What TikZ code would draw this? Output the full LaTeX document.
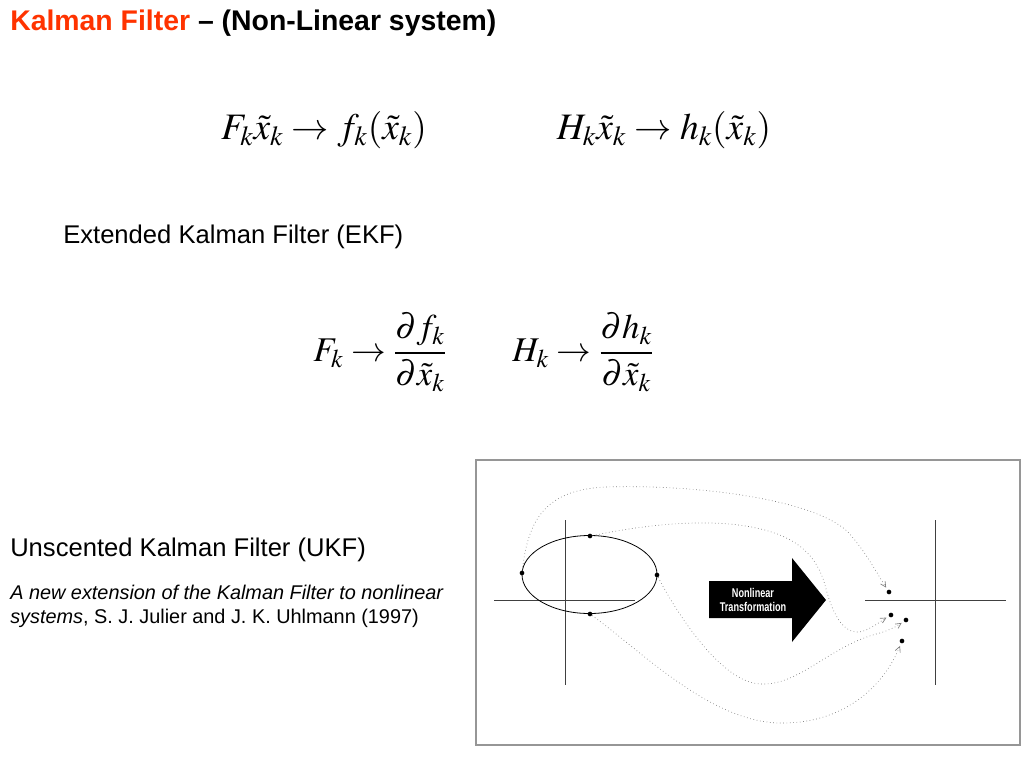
\documentclass[tikz,border=0pt]{standalone}
\usepackage{mathptmx}
\usepackage[no-math]{fontspec}
\setmainfont{Liberation Sans}
\newfontfamily\narrowfont[FakeStretch=0.72]{Liberation Sans}
\usetikzlibrary{arrows.meta}
\definecolor{kforange}{RGB}{255,51,0}
\definecolor{pathgray}{RGB}{125,125,125}
\definecolor{framegray}{RGB}{150,150,150}
\tikzset{
  axis/.style={draw=black!75, line width=0.6pt},
  sigdot/.style={circle, fill=black, inner sep=0pt, minimum size=3.5pt},
  flow/.style={draw=pathgray, dotted, line width=0.5pt, shorten >=2pt,
    -{Straight Barb[length=4pt,width=4pt]}},
  txt/.style={anchor=west, inner sep=0pt},
}
\begin{document}
\begin{tikzpicture}[x=0.75pt,y=-0.75pt]
\useasboundingbox (0,0) rectangle (1024,768);

% title and equations
\node[txt, font=\fontsize{21.3}{24}\selectfont\bfseries] (title) at (10,23)
{\textcolor{kforange}{Kalman Filter} -- (Non-Linear system)};
\node[font=\fontsize{28}{30}\selectfont] (eqF) at (324,130) {$F_k\tilde{x}_k \rightarrow f_k(\tilde{x}_k)$};
\node[font=\fontsize{28}{30}\selectfont] (eqH) at (664,130) {$H_k\tilde{x}_k \rightarrow h_k(\tilde{x}_k)$};

\node[txt, font=\fontsize{19.2}{22}\selectfont] (ekf) at (63,237) {Extended Kalman Filter (EKF)};
\node[font=\fontsize{26}{28}\selectfont] (jacF) at (380,352) {$F_k \rightarrow \displaystyle\frac{\partial f_k}{\partial\tilde{x}_k}$};
\node[font=\fontsize{26}{28}\selectfont] (jacH) at (583,352) {$H_k \rightarrow \displaystyle\frac{\partial h_k}{\partial\tilde{x}_k}$};

\node[txt, font=\fontsize{19.2}{22}\selectfont] (ukf) at (10,550) {Unscented Kalman Filter (UKF)};
\node[txt, anchor=north west, align=left, font=\fontsize{14.9}{18}\selectfont] (ref) at (10,585)
{\textit{A new extension of the Kalman Filter to nonlinear}\\
\textit{systems}, S. J. Julier and J. K. Uhlmann (1997)};

% figure
\draw[draw=framegray, line width=1.2pt] (476,460) rectangle (1020,745);

\draw[axis] (494,600)--(635,600);
\draw[axis] (565,520)--(565,685);
\draw[line width=0.6pt] (589.5,574.5) ellipse [x radius=67.5, y radius=39];

\draw[axis] (865,600)--(1006,600);
\draw[axis] (935,520)--(935,685);

\node[sigdot] (sL) at (522,573) {};
\node[sigdot] (sT) at (590,536) {};
\node[sigdot] (sR) at (657,575) {};
\node[sigdot] (sB) at (590,614) {};

\node[sigdot] (tA) at (889,592) {};
\node[sigdot] (tB) at (891,615) {};
\node[sigdot] (tC) at (906,620) {};
\node[sigdot] (tD) at (902,641) {};

\fill (709,581)--(792,581)--(792,558)--(826,600)--(792,642)--(792,618)--(709,618)--cycle;
\node[text=white, align=center, inner sep=0pt, font=\fontsize{9.5}{10.5}\selectfont\narrowfont\bfseries] (nlt) at (753,600)
{Nonlinear\\Transformation};

\draw[flow] (sL) .. controls (528,520) and (545,490) .. (605,487)
  .. controls (700,484) and (815,500) .. (848,532)
  .. controls (866,552) and (876,572) .. (tA);
\draw[flow] (sT) .. controls (630,528) and (680,520) .. (730,524)
  .. controls (790,530) and (815,550) .. (825,585)
  .. controls (835,625) and (850,640) .. (870,628)
  .. controls (878,624) and (884,619) .. (tB);
\draw[flow] (sR) .. controls (675,610) and (720,682) .. (760,684)
  .. controls (800,686) and (830,645) .. (880,633)
  .. controls (890,630) and (897,626) .. (tC);
\draw[flow] (sB) .. controls (640,650) and (710,722) .. (780,723)
  .. controls (840,724) and (882,690) .. (tD);
\end{tikzpicture}
\end{document}
